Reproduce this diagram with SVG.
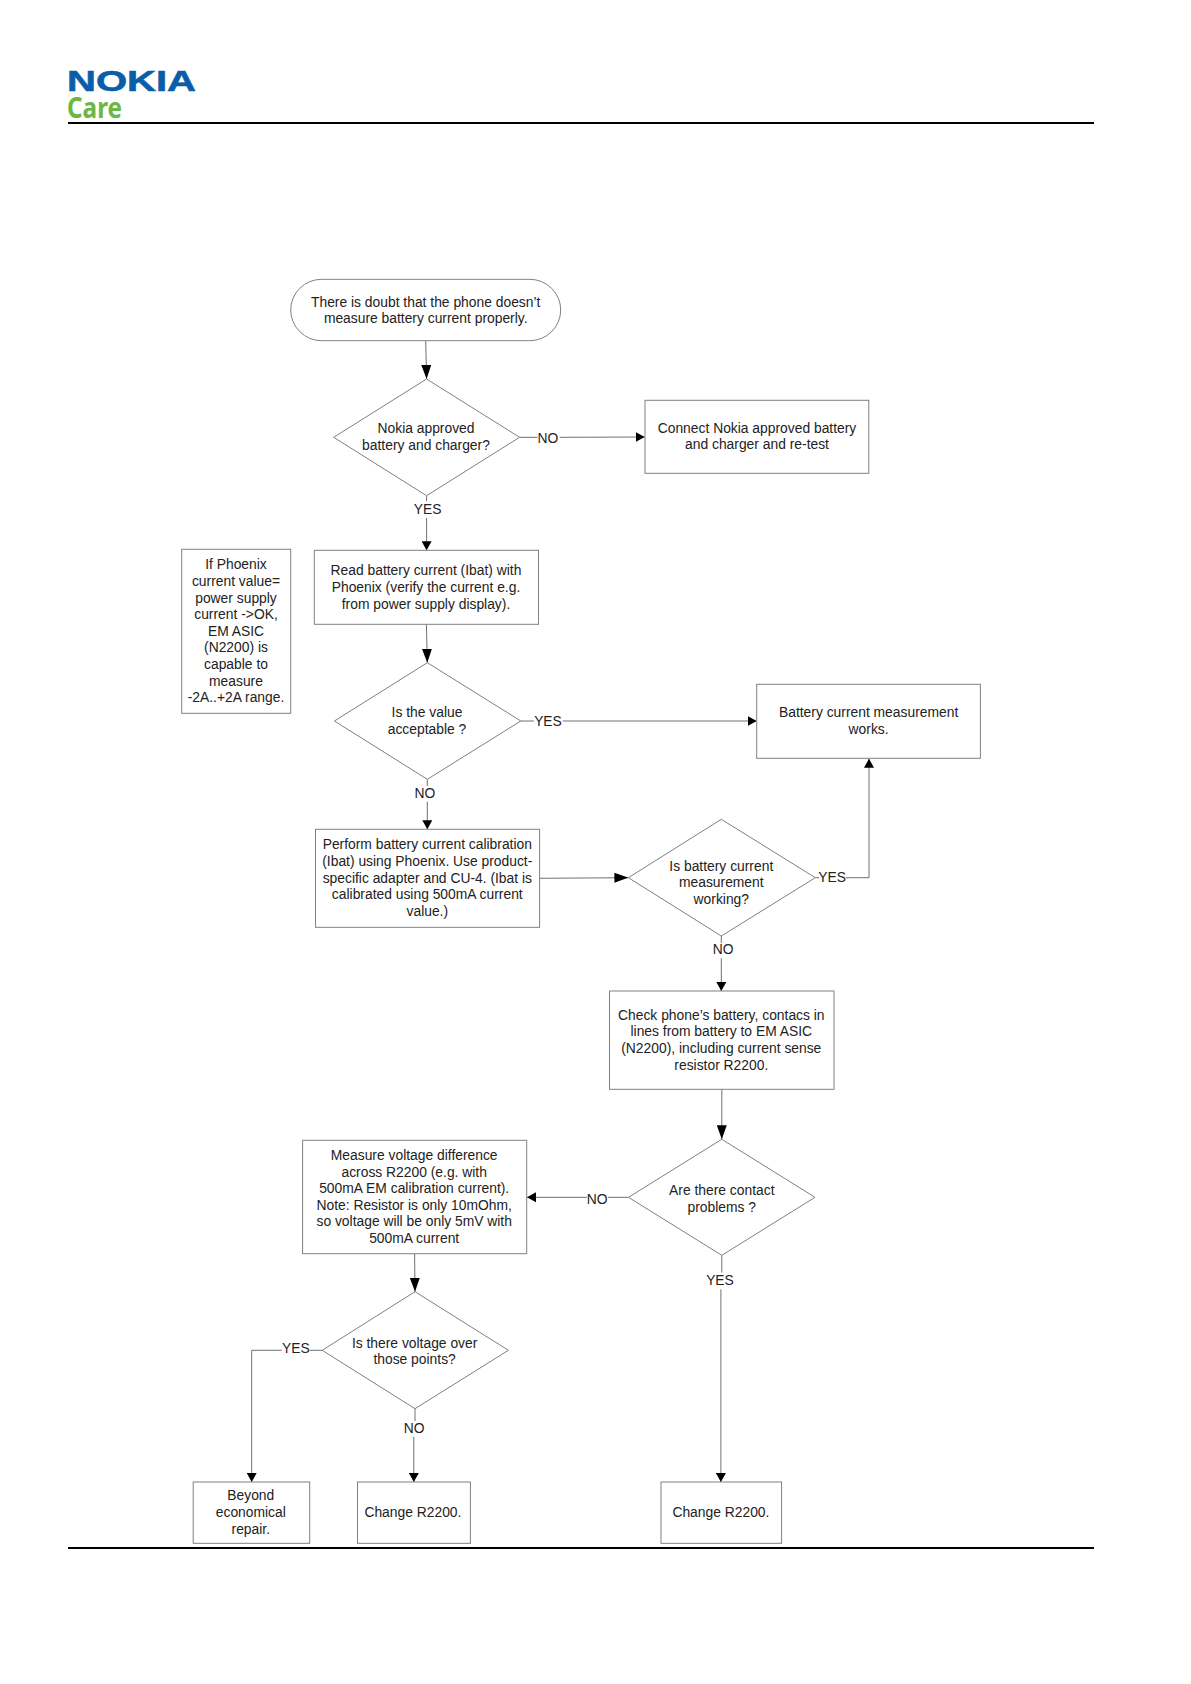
<svg xmlns="http://www.w3.org/2000/svg" width="1191" height="1684" viewBox="0 0 1191 1684">
<style>
text{font-family:"Liberation Sans",Arial,sans-serif;font-size:13.85px;fill:#222;text-anchor:middle;dominant-baseline:central;transform:translateY(-.5px)}
.s{fill:#fff;stroke:#808080;stroke-width:1}
.c{fill:none;stroke:#707070;stroke-width:1}
.rule{stroke:#000;stroke-width:2}
</style>
<defs>
<marker id="long" markerUnits="userSpaceOnUse" markerWidth="14" markerHeight="10" refX="14" refY="5" orient="auto"><path d="M0,0L14,5L0,10z" fill="#000"/></marker>
<marker id="short" markerUnits="userSpaceOnUse" markerWidth="9" markerHeight="10" refX="9" refY="5" orient="auto"><path d="M0,0L9,5L0,10z" fill="#000"/></marker>
</defs>
<rect width="1191" height="1684" fill="#fff"/>
<g id="header">
<text x="67" y="81" textLength="129" lengthAdjust="spacingAndGlyphs" style="font-size:29.5px;font-weight:bold;fill:#0a5ea8;stroke:#0a5ea8;stroke-width:.6;text-anchor:start">NOKIA</text>
<text x="67" y="107.5" textLength="55" lengthAdjust="spacingAndGlyphs" style="font-family:'Noto Sans',sans-serif;font-size:28px;font-weight:bold;fill:#6cb644;text-anchor:start">Care</text>
<line class="rule" x1="68" y1="123" x2="1094" y2="123"/>
<line class="rule" x1="68" y1="1548" x2="1094" y2="1548"/>
</g>
<g id="connectors">
<path class="c" marker-end="url(#long)" d="M425.7,340.7L426.6,379"/>
<path class="c" d="M519.6,437.3H537.5"/>
<path class="c" marker-end="url(#short)" d="M559.7,437.3L644.7,437"/>
<text x="548" y="438.5">NO</text>
<path class="c" d="M426.6,495.7V501"/>
<path class="c" marker-end="url(#short)" d="M426.6,518V550.3"/>
<text x="427.6" y="509">YES</text>
<path class="c" marker-end="url(#long)" d="M426.4,624.3L427.3,662.7"/>
<path class="c" d="M520.8,721H534"/>
<path class="c" marker-end="url(#short)" d="M562.8,721H756.7"/>
<text x="548" y="721">YES</text>
<path class="c" d="M427.3,779.3V786"/>
<path class="c" marker-end="url(#short)" d="M427.3,801.7V829.3"/>
<text x="425" y="793.3">NO</text>
<path class="c" marker-end="url(#long)" d="M539.6,878.3L628.4,877.7"/>
<path class="c" d="M815.3,877.7H819"/>
<path class="c" marker-end="url(#short)" d="M846,877.7H869V758.7"/>
<text x="832.2" y="877.7">YES</text>
<path class="c" d="M721.3,936V943"/>
<path class="c" marker-end="url(#short)" d="M721.3,958.3V991"/>
<text x="723.2" y="949.3">NO</text>
<path class="c" marker-end="url(#long)" d="M721.8,1089.3V1139.3"/>
<path class="c" d="M628.5,1197.3H608"/>
<path class="c" marker-end="url(#short)" d="M587,1197.3H527"/>
<text x="597.2" y="1199">NO</text>
<path class="c" marker-end="url(#long)" d="M414.6,1253.7L415,1291.7"/>
<path class="c" d="M322.2,1350.3H309.7"/>
<path class="c" marker-end="url(#short)" d="M281.6,1350.3H251.7V1482"/>
<text x="295.9" y="1348.7">YES</text>
<path class="c" d="M415,1408.7V1421"/>
<path class="c" marker-end="url(#short)" d="M413.8,1436.7V1482"/>
<text x="414.2" y="1428.3">NO</text>
<path class="c" d="M721.8,1255.3V1272.5"/>
<path class="c" marker-end="url(#short)" d="M720.9,1289.3V1482"/>
<text x="720" y="1280.5">YES</text>
</g>
<g id="start"><rect class="s" x="290.7" y="279.3" width="270" height="61.4" rx="31" ry="30.7"/><text x="425.7" y="302">There is doubt that the phone doesn’t</text><text x="425.7" y="318.5">measure battery current properly.</text></g>
<g id="d-approved"><polygon class="s" points="426.6,379 519.6,437.3 426.6,495.7 333.7,437.3"/><text x="426" y="428.7">Nokia approved</text><text x="426" y="445.3">battery and charger?</text></g>
<g id="connect"><rect class="s" x="645" y="400.3" width="223.8" height="73"/><text x="757" y="428">Connect Nokia approved battery</text><text x="757" y="444.7">and charger and re-test</text></g>
<g id="note"><rect class="s" x="181.7" y="549.3" width="109" height="164"/>
<text x="236" y="564.7">If Phoenix</text><text x="236" y="581.3">current value=</text><text x="236" y="598">power supply</text><text x="236" y="614.5">current -&gt;OK,</text><text x="236" y="631">EM ASIC</text><text x="236" y="647.7">(N2200) is</text><text x="236" y="664.3">capable to</text><text x="236" y="681">measure</text><text x="236" y="697.7">-2A..+2A range.</text></g>
<g id="read"><rect class="s" x="314.3" y="550.3" width="224.2" height="74"/><text x="426" y="570.7">Read battery current (Ibat) with</text><text x="426" y="587.3">Phoenix (verify the current e.g.</text><text x="426" y="604">from power supply display).</text></g>
<g id="d-value"><polygon class="s" points="427.3,662.7 520.8,721 427.3,779.3 334.4,721"/><text x="427" y="712.3">Is the value</text><text x="427" y="729.3">acceptable ?</text></g>
<g id="works"><rect class="s" x="756.7" y="684.3" width="223.7" height="74"/><text x="868.6" y="712.3">Battery current measurement</text><text x="868.6" y="729.3">works.</text></g>
<g id="perform"><rect class="s" x="315.5" y="829.3" width="224.1" height="98"/><text x="427.3" y="844.7">Perform battery current calibration</text><text x="427.3" y="861.3">(Ibat) using Phoenix. Use product-</text><text x="427.3" y="878">specific adapter and CU-4. (Ibat is</text><text x="427.3" y="894.7">calibrated using 500mA current</text><text x="427.3" y="911.3">value.)</text></g>
<g id="d-working"><polygon class="s" points="721.3,819.3 815.3,877.7 721.3,936 628.4,877.7"/><text x="721.3" y="866">Is battery current</text><text x="721.3" y="882.7">measurement</text><text x="721.3" y="899.3">working?</text></g>
<g id="check"><rect class="s" x="609.5" y="991" width="224.5" height="98.3"/><text x="721.3" y="1015">Check phone’s battery, contacs in</text><text x="721.3" y="1031.7">lines from battery to EM ASIC</text><text x="721.3" y="1048.3">(N2200), including current sense</text><text x="721.3" y="1065">resistor R2200.</text></g>
<g id="d-contact"><polygon class="s" points="721.8,1139.3 815,1197.3 721.8,1255.3 628.5,1197.3"/><text x="721.8" y="1190.3">Are there contact</text><text x="721.8" y="1207">problems ?</text></g>
<g id="measure"><rect class="s" x="302.6" y="1140.3" width="224.1" height="113.4"/><text x="414.2" y="1155.3">Measure voltage difference</text><text x="414.2" y="1172">across R2200 (e.g. with</text><text x="414.2" y="1188.3">500mA EM calibration current).</text><text x="414.2" y="1205">Note: Resistor is only 10mOhm,</text><text x="414.2" y="1221.7">so voltage will be only 5mV with</text><text x="414.2" y="1238.3">500mA current</text></g>
<g id="d-voltage"><polygon class="s" points="415,1291.7 508.4,1350.3 415,1408.7 322.2,1350.3"/><text x="414.6" y="1343.3">Is there voltage over</text><text x="414.6" y="1359.7">those points?</text></g>
<g id="ber"><rect class="s" x="193.2" y="1482" width="116.5" height="61.3"/><text x="250.8" y="1495.7">Beyond</text><text x="250.8" y="1512.7">economical</text><text x="250.8" y="1529.3">repair.</text></g>
<g id="change1"><rect class="s" x="357.5" y="1482" width="112.9" height="61.3"/><text x="412.9" y="1512.7">Change R2200.</text></g>
<g id="change2"><rect class="s" x="661" y="1482" width="120.6" height="61.3"/><text x="720.9" y="1512.7">Change R2200.</text></g>
</svg>
